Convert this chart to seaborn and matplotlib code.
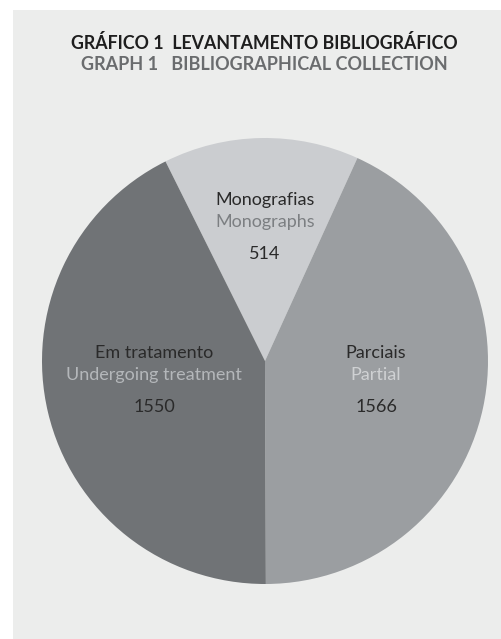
import matplotlib
matplotlib.use("Agg")
import matplotlib.pyplot as plt
import seaborn as sns
from matplotlib.patches import Rectangle

sns.set_theme(style="white")
plt.rcParams['font.family'] = ['Lato', 'DejaVu Sans']

# Data
categories_pt = ["Monografias", "Parciais", "Em tratamento"]
categories_en = ["Monographs", "Partial", "Undergoing treatment"]
values = [514, 1566, 1550]
slice_colors = ["#cbcdd0", "#9b9ea1", "#707376"]
en_colors = ["#7c7f82", "#cfd1d3", "#b4b7ba"]

W, H = 502, 639
fig = plt.figure(figsize=(W / 100, H / 100), dpi=100)
fig.patch.set_facecolor("white")

# light panel behind the chart
fig.patches.append(Rectangle((13 / W, 0), 1 - 13 / W, 1 - 10 / H,
                             transform=fig.transFigure, facecolor="#ecedec",
                             edgecolor="none", zorder=-5))

ax = fig.add_axes([0, 0, 1, 1])
ax.set_facecolor("none")
ax.set_zorder(1)

cx, cy, r = 265, 361, 223
wedges, _ = ax.pie(values, colors=slice_colors, startangle=116.5,
                   counterclock=False, radius=1,
                   wedgeprops=dict(linewidth=0))
ax.set_aspect("auto")
ax.set_xlim(-cx / r, (W - cx) / r)
ax.set_ylim(-(H - cy) / r, cy / r)
ax.axis("off")


def px(x, y):
    return (x - cx) / r, (cy - y) / r


label_pos = [(265, 200), (376, 353), (154, 353)]
for (x, y), pt, en, ec, v in zip(label_pos, categories_pt, categories_en,
                                  en_colors, values):
    ax.text(*px(x, y), pt, ha="center", va="center", fontsize=13,
            color="#2a2a2a")
    ax.text(*px(x, y + 22), en, ha="center", va="center", fontsize=13,
            color=ec)
    ax.text(*px(x, y + 54), str(v), ha="center", va="center", fontsize=13,
            color="#2a2a2a")

fig.text(264 / W, 1 - 43 / H, "GRÁFICO 1  LEVANTAMENTO BIBLIOGRÁFICO",
         ha="center", va="center", fontsize=12.8, fontweight="bold",
         color="#1e1e1e", zorder=3)
fig.text(264 / W, 1 - 65 / H, "GRAPH 1   BIBLIOGRAPHICAL COLLECTION",
         ha="center", va="center", fontsize=13, fontweight="bold",
         color="#6a6c6e", zorder=3)

fig.savefig("out.png", dpi=100)
